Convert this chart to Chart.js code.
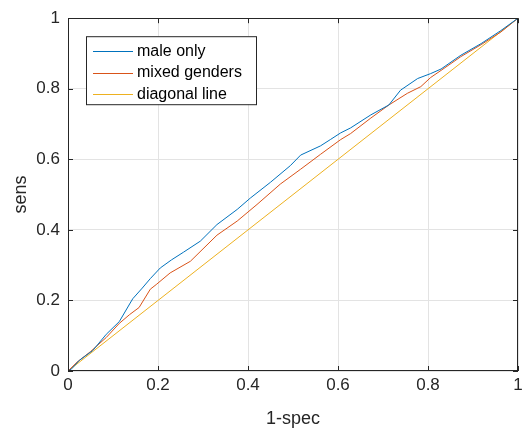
<!DOCTYPE html>
<html>
<head>
<meta charset="utf-8">
<script src="https://cdn.jsdelivr.net/npm/chart.js@4"></script>
<style>
  html, body { margin: 0; padding: 0; background: #fff; }
  #wrap { width: 527px; height: 428px; }
</style>
</head>
<body>
<div id="wrap"><canvas id="roc" width="527" height="428"></canvas></div>
<script>
// values
const maleX = [0, 0.008, 0.025, 0.055, 0.085, 0.114, 0.137, 0.144, 0.165, 0.183, 0.205, 0.23, 0.257, 0.294, 0.331, 0.376, 0.405, 0.45, 0.494, 0.517, 0.561, 0.583, 0.606, 0.628, 0.673, 0.713, 0.739, 0.777, 0.806, 0.829, 0.873, 0.918, 0.962, 1];
const maleY = [0, 0.006, 0.03, 0.058, 0.104, 0.14, 0.19, 0.205, 0.235, 0.262, 0.292, 0.315, 0.337, 0.368, 0.415, 0.458, 0.49, 0.535, 0.582, 0.612, 0.638, 0.656, 0.675, 0.689, 0.726, 0.754, 0.796, 0.829, 0.843, 0.856, 0.895, 0.928, 0.965, 1];

const mixedX = [0, 0.02, 0.05, 0.085, 0.114, 0.137, 0.158, 0.183, 0.196, 0.227, 0.272, 0.331, 0.376, 0.42, 0.472, 0.517, 0.561, 0.606, 0.628, 0.673, 0.713, 0.754, 0.784, 0.806, 0.829, 0.873, 0.918, 0.962, 1];
const mixedY = [0, 0.025, 0.055, 0.095, 0.135, 0.16, 0.18, 0.232, 0.245, 0.278, 0.311, 0.385, 0.425, 0.472, 0.53, 0.572, 0.614, 0.656, 0.673, 0.717, 0.754, 0.787, 0.806, 0.832, 0.852, 0.891, 0.925, 0.961, 1];

const diagX = [0, 1];
const diagY = [0, 1];

const seriesNames = ["male only", "mixed genders", "diagonal line"];
const seriesColors = ["#0072BD", "#D95319", "#EDB120"];
const tickValues = [0, 0.2, 0.4, 0.6, 0.8, 1];

const FONT = "'Liberation Sans', Arial, sans-serif";
const INK = "#262626";

function toPoints(xs, ys) {
  return xs.map((x, i) => ({ x: x, y: ys[i] }));
}

// box round the axes, inward ticks, legend inside the plot
const matlabFrame = {
  id: "matlabFrame",
  afterDatasetsDraw(chart) {
    const { ctx, chartArea: a, scales } = chart;
    ctx.save();
    ctx.strokeStyle = INK;
    ctx.lineWidth = 1;
    ctx.strokeRect(Math.round(a.left) + 0.5, Math.round(a.top) + 0.5,
      Math.round(a.right - a.left) - 1, Math.round(a.bottom - a.top) - 1);

    const tl = 5;
    ctx.beginPath();
    tickValues.forEach(v => {
      const px = Math.round(scales.x.getPixelForValue(v)) + 0.5;
      ctx.moveTo(px, a.bottom); ctx.lineTo(px, a.bottom - tl);
      ctx.moveTo(px, a.top); ctx.lineTo(px, a.top + tl);
      const py = Math.round(scales.y.getPixelForValue(v)) + 0.5;
      ctx.moveTo(a.left, py); ctx.lineTo(a.left + tl, py);
      ctx.moveTo(a.right, py); ctx.lineTo(a.right - tl, py);
    });
    ctx.stroke();

    // legend
    const lx = a.left + 18, ly = a.top + 18, lw = 170, lh = 68;
    ctx.fillStyle = "#fff";
    ctx.fillRect(lx, ly, lw, lh);
    ctx.strokeRect(lx + 0.5, ly + 0.5, lw, lh);
    ctx.font = "16px " + FONT;
    ctx.textBaseline = "middle";
    seriesNames.forEach((name, i) => {
      const y = ly + 15 + i * 21.5;
      ctx.strokeStyle = seriesColors[i];
      ctx.beginPath();
      ctx.moveTo(lx + 7, Math.round(y) + 0.5);
      ctx.lineTo(lx + 47, Math.round(y) + 0.5);
      ctx.stroke();
      ctx.fillStyle = "#000";
      ctx.fillText(name, lx + 51, y);
    });
    ctx.restore();
  }
};

const lines = [
  [maleX, maleY],
  [mixedX, mixedY],
  [diagX, diagY]
];

new Chart(document.getElementById("roc"), {
  type: "scatter",
  data: {
    datasets: lines.map((l, i) => ({
      label: seriesNames[i],
      data: toPoints(l[0], l[1]),
      showLine: true,
      borderColor: seriesColors[i],
      backgroundColor: seriesColors[i],
      borderWidth: 1,
      pointRadius: 0,
      tension: 0,
      order: i
    }))
  },
  options: {
    responsive: false,
    animation: false,
    devicePixelRatio: 1,
    layout: { padding: { top: 14, right: 9, left: 0, bottom: 0 } },
    plugins: {
      legend: { display: false },
      tooltip: { enabled: false }
    },
    scales: {
      x: {
        type: "linear",
        min: 0,
        max: 1,
        afterBuildTicks: s => { s.ticks = tickValues.map(v => ({ value: v })); },
        afterFit: s => { s.height = 57; },
        grid: { color: "#e3e3e3", drawTicks: false },
        border: { display: false },
        ticks: {
          padding: 4,
          color: INK,
          font: { family: FONT, size: 17 },
          callback: v => String(v)
        },
        title: {
          display: true,
          text: "1-spec",
          color: INK,
          font: { family: FONT, size: 18, lineHeight: 1 },
          padding: { top: 0, bottom: 0 }
        }
      },
      y: {
        type: "linear",
        min: 0,
        max: 1,
        afterBuildTicks: s => { s.ticks = tickValues.map(v => ({ value: v })); },
        afterFit: s => { s.width = 68; },
        grid: { color: "#e3e3e3", drawTicks: false },
        border: { display: false },
        ticks: {
          padding: 8,
          color: INK,
          font: { family: FONT, size: 17 },
          callback: v => String(v)
        },
        title: {
          display: true,
          text: "sens",
          color: INK,
          font: { family: FONT, size: 18 },
          padding: { top: 10, bottom: 0 }
        }
      }
    }
  },
  plugins: [matlabFrame]
});
</script>
</body>
</html>
